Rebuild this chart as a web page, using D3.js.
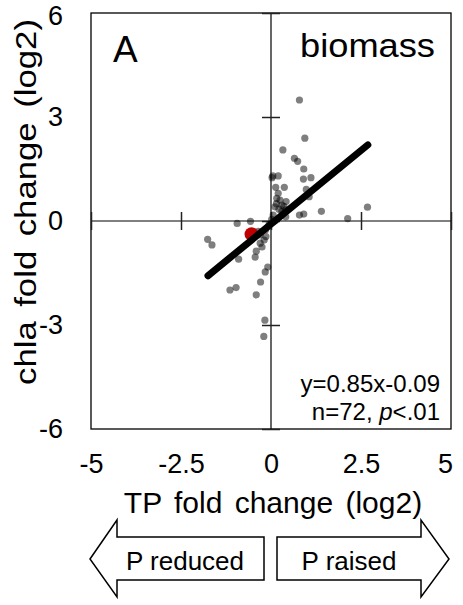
<!DOCTYPE html>
<html>
<head>
    <meta charset="utf-8">
    <script src="https://d3js.org/d3.v7.min.js"></script>
    <style>
        body { margin: 0; background: #fff; }
        text { font-family: "Liberation Sans", Arial, sans-serif; fill: #000; }
    </style>
</head>
<body>
    <script>
        // TP fold change (x) vs chla fold change (y), both log2
        var tpChange = [0.79, 0.94, 0.33, 0.65, 0.74, 0.91, 0.05, 0.20, 0.03, 0.90, 1.11, 0.13, 0.37, 0.98,
            0.20, 1.06, 0.16, 0.25, 0.42, 0.30, 0.36, 0.11, 0.22, 0.41, 2.68, 1.40, 0.91, 0.79, 2.13, 0.41,
            0.06, 0.30, 0.15, -0.15, -0.30, -0.05, -0.94, -0.57, -1.76, -1.64, -0.30, -0.19, -0.14, -0.41,
            -0.44, -0.90, -0.09, -0.16, -0.29, -0.97, -1.14, -0.41, -0.17, -0.20, -0.35, -0.25, 0.02, 0.10];
        var chlaChange = [3.49, 2.39, 2.05, 1.81, 1.72, 1.50, 1.30, 1.30, 1.25, 1.21, 1.25, 0.97, 0.97, 0.91,
            0.80, 0.70, 0.65, 0.60, 0.56, 0.46, 0.42, 0.41, 0.34, 0.32, 0.40, 0.28, 0.20, 0.17, 0.07, 0.12,
            0.17, 0.28, 0.50, -0.25, -0.40, -0.10, -0.07, -0.01, -0.53, -0.69, -0.64, -0.55, -0.45, -0.87,
            -1.04, -1.10, -1.33, -1.47, -1.76, -1.92, -1.99, -2.13, -2.86, -3.33, -0.30, -0.75, 0.05, 0.00];

        // mean point and fitted line y = 0.85x - 0.09
        var meanPoint = [-0.54, -0.38];
        var fitSlope = 0.85, fitIntercept = -0.09;
        var fitRange = [-1.75, 2.69];

        var xTicks = [-5, -2.5, 0, 2.5, 5];
        var yTicks = [-6, -3, 0, 3, 6];
        var statLines = ["y=0.85x-0.09", "n=72, "];

        var W = 463, H = 605;
        var margin = { top: 13, right: 12, bottom: 176, left: 91 },
            width = W - margin.left - margin.right,
            height = H - margin.top - margin.bottom;

        var svg = d3.select("body").append("svg")
            .attr("width", W)
            .attr("height", H);

        var g = svg.append("g")
            .attr("transform", "translate(" + margin.left + "," + margin.top + ")");

        var xScale = d3.scaleLinear().domain([-5, 5]).range([0, width]);
        var yScale = d3.scaleLinear().domain([-6, 6]).range([height, 0]);

        // frame
        g.append("rect")
            .attr("width", width)
            .attr("height", height)
            .attr("fill", "none")
            .attr("stroke", "#000")
            .attr("stroke-width", 1.3);

        // center axis lines
        g.append("line")
            .attr("x1", 0).attr("x2", width)
            .attr("y1", yScale(0)).attr("y2", yScale(0))
            .attr("stroke", "#000").attr("stroke-width", 1.2);
        g.append("line")
            .attr("x1", xScale(0)).attr("x2", xScale(0))
            .attr("y1", 0).attr("y2", height)
            .attr("stroke", "#000").attr("stroke-width", 1.2);

        // cross ticks on the center axes
        var tickLen = 18;
        g.append("g")
            .attr("transform", "translate(0," + (yScale(0) - tickLen / 2) + ")")
            .call(d3.axisBottom(xScale).tickValues(xTicks).tickSize(tickLen).tickFormat(""))
            .call(function (a) { a.select(".domain").remove(); })
            .selectAll("line").attr("stroke", "#222").attr("stroke-width", 1.5);
        g.append("g")
            .attr("transform", "translate(" + (xScale(0) + tickLen / 2) + ",0)")
            .call(d3.axisLeft(yScale).tickValues(yTicks).tickSize(tickLen).tickFormat(""))
            .call(function (a) { a.select(".domain").remove(); })
            .selectAll("line").attr("stroke", "#222").attr("stroke-width", 1.5);

        // tick labels along frame edges (plain hyphen minus)
        var xLab = g.append("g")
            .attr("transform", "translate(0," + height + ")")
            .call(d3.axisBottom(xScale).tickValues(xTicks).tickSize(0).tickPadding(25)
                .tickFormat(function (d) { return String(d); }));
        xLab.select(".domain").remove();
        xLab.selectAll("text")
            .style("font-size", "27px")
            .attr("dx", function (d) { return d === 5 ? -6 : 0; });

        var yLab = g.append("g")
            .call(d3.axisLeft(yScale).tickValues(yTicks).tickSize(0).tickPadding(28)
                .tickFormat(function (d) { return String(d); }));
        yLab.select(".domain").remove();
        yLab.selectAll("text")
            .style("font-size", "27px")
            .attr("dy", function (d) { return d === 6 ? "0.42em" : "0.32em"; });

        // scatter points
        var pts = d3.zip(tpChange, chlaChange);
        g.append("g").selectAll("circle")
            .data(pts)
            .enter().append("circle")
            .attr("cx", function (d) { return xScale(d[0]); })
            .attr("cy", function (d) { return yScale(d[1]); })
            .attr("r", 3.6)
            .attr("fill", "#000")
            .attr("fill-opacity", 0.5);

        // mean point
        g.append("circle")
            .attr("cx", xScale(meanPoint[0]))
            .attr("cy", yScale(meanPoint[1]))
            .attr("r", 7)
            .attr("fill", "#c00000");

        // fit line
        var fitLine = d3.line()
            .x(function (d) { return xScale(d); })
            .y(function (d) { return yScale(fitSlope * d + fitIntercept); });
        g.append("path")
            .attr("d", fitLine(fitRange))
            .attr("fill", "none")
            .attr("stroke", "#000")
            .attr("stroke-width", 7)
            .attr("stroke-linecap", "round");

        // panel labels
        g.append("text")
            .attr("x", 22).attr("y", 49)
            .style("font-size", "37px")
            .text("A");
        g.append("text")
            .attr("x", width - 16).attr("y", 44)
            .attr("text-anchor", "end")
            .attr("textLength", 135)
            .attr("lengthAdjust", "spacingAndGlyphs")
            .style("font-size", "33px")
            .text("biomass");

        // fit statistics
        g.append("text")
            .attr("x", width - 11).attr("y", 379)
            .attr("text-anchor", "end")
            .style("font-size", "24px")
            .text(statLines[0]);
        var st = g.append("text")
            .attr("x", width - 11).attr("y", 407)
            .attr("text-anchor", "end")
            .style("font-size", "24px");
        st.append("tspan").text(statLines[1]);
        st.append("tspan").style("font-style", "italic").text("p");
        st.append("tspan").text("<.01");

        // axis titles
        svg.append("text")
            .attr("x", 273).attr("y", 513)
            .attr("text-anchor", "middle")
            .style("font-size", "30px")
            .style("word-spacing", "4px")
            .text("TP fold change (log2)");
        svg.append("text")
            .attr("transform", "translate(36,202) rotate(-90)")
            .attr("text-anchor", "middle")
            .attr("textLength", 366)
            .attr("lengthAdjust", "spacingAndGlyphs")
            .style("font-size", "29px")
            .style("word-spacing", "4px")
            .text("chla fold change (log2)");

        // direction arrows under the x axis
        var arrows = [
            { label: "P reduced", pts: [[90, 559], [117, 520], [117, 537], [264, 537], [264, 580], [117, 580], [117, 597]], tx: 185 },
            { label: "P raised", pts: [[277, 537], [421, 537], [421, 520], [449, 559], [421, 597], [421, 580], [277, 580]], tx: 349 }
        ];
        arrows.forEach(function (a) {
            svg.append("polygon")
                .attr("points", a.pts.map(function (p) { return p.join(","); }).join(" "))
                .attr("fill", "#fff")
                .attr("stroke", "#000")
                .attr("stroke-width", 1.5);
            svg.append("text")
                .attr("x", a.tx).attr("y", 570)
                .attr("text-anchor", "middle")
                .style("font-size", "26px")
                .text(a.label);
        });
    </script>
</body>
</html>
